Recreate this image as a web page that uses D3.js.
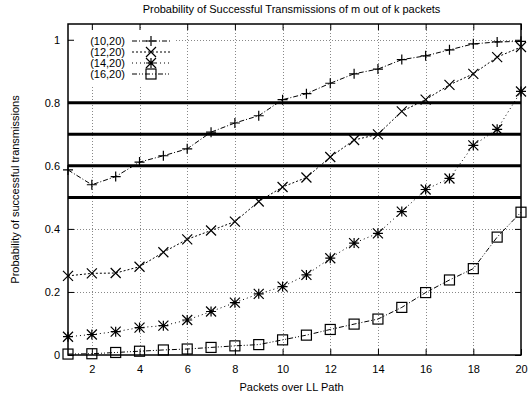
<!DOCTYPE html>
<html>
<head>
<meta charset="utf-8">
<script src="https://cdn.jsdelivr.net/npm/d3@7"></script>
<style>
  body { margin: 0; background: #fff; }
  svg { display: block; }
  text { font-family: "Liberation Sans", Arial, sans-serif; fill: #000; }
</style>
</head>
<body>
<svg id="chart" width="531" height="402"></svg>
<script>
// Packets sent over the LL path (x axis)
const packets = d3.range(1, 21);

// Series labels (m,k)
const seriesNames = ["(10,20)", "(12,20)", "(14,20)", "(16,20)"];

// Probability of successful transmission for each series
const s10of20 = [0.587, 0.540, 0.566, 0.612, 0.632, 0.654, 0.707, 0.736, 0.759, 0.810,
                 0.829, 0.862, 0.892, 0.907, 0.937, 0.949, 0.968, 0.987, 0.993, 0.995];
const s12of20 = [0.251, 0.259, 0.260, 0.280, 0.326, 0.367, 0.395, 0.423, 0.487, 0.533,
                 0.563, 0.628, 0.682, 0.700, 0.773, 0.810, 0.857, 0.892, 0.945, 0.977];
const s14of20 = [0.058, 0.065, 0.074, 0.087, 0.093, 0.111, 0.138, 0.166, 0.194, 0.217,
                 0.254, 0.307, 0.355, 0.386, 0.455, 0.525, 0.560, 0.665, 0.716, 0.836];
const s16of20 = [0.003, 0.004, 0.008, 0.012, 0.016, 0.019, 0.024, 0.029, 0.033, 0.048,
                 0.063, 0.081, 0.098, 0.114, 0.151, 0.198, 0.238, 0.274, 0.374, 0.453];

// Threshold levels drawn as heavy horizontal rules
const thresholds = [0.5, 0.6, 0.7, 0.8];

// Axis ticks
const xTicks = [2, 4, 6, 8, 10, 12, 14, 16, 18, 20];
const yTicks = [0, 0.2, 0.4, 0.6, 0.8, 1];

const allSeries = [s10of20, s12of20, s14of20, s16of20];
const dashes = ["5,2,1,2", "2,2", "1,3", "5,2,1,2,1,2"];
const markers = ["plus", "cross", "star", "square"];

const svg = d3.select("#chart");
const margin = { left: 68, right: 10, top: 24, bottom: 47 };
const W = 531, H = 402;
const x = d3.scaleLinear().domain([1, 20]).range([margin.left, W - margin.right]);
const y = d3.scaleLinear().domain([0, 1.05]).range([H - margin.bottom, margin.top]);

const x0 = x.range()[0], x1 = x.range()[1];
const yB = y.range()[0], yT = y.range()[1];

// Grid
const grid = svg.append("g").attr("stroke", "#888").attr("stroke-width", 1)
  .attr("stroke-dasharray", "1,2");
xTicks.filter(d => d < 20).forEach(t => {
  grid.append("line").attr("x1", Math.round(x(t)) + 0.5).attr("x2", Math.round(x(t)) + 0.5)
    .attr("y1", yT).attr("y2", yB);
});
yTicks.filter(d => d > 0).forEach(t => {
  grid.append("line").attr("y1", Math.round(y(t)) + 0.5).attr("y2", Math.round(y(t)) + 0.5)
    .attr("x1", x0).attr("x2", x1);
});

// Legend background (key area is kept clear of the grid)
svg.append("rect").attr("x", x0 + 2).attr("y", yT + 6).attr("width", 104).attr("height", 56)
  .attr("fill", "#fff");

// Threshold rules
svg.append("g").selectAll("line").data(thresholds).join("line")
  .attr("x1", x0).attr("x2", x1)
  .attr("y1", d => y(d)).attr("y2", d => y(d))
  .attr("stroke", "#000").attr("stroke-width", 3);

// Axes with inward ticks, mirrored on top/right
const tickLen = 6;
const axB = d3.axisBottom(x).tickValues(xTicks).tickSizeInner(-tickLen).tickSizeOuter(0).tickPadding(10);
const axL = d3.axisLeft(y).tickValues(yTicks).tickSizeInner(-tickLen).tickSizeOuter(0).tickPadding(8)
  .tickFormat(d => d3.format("")(d));
const axT = d3.axisTop(x).tickValues(xTicks).tickSizeInner(-tickLen).tickSizeOuter(0).tickFormat("");
const axR = d3.axisRight(y).tickValues(yTicks).tickSizeInner(-tickLen).tickSizeOuter(0).tickFormat("");

function styleAxis(g) {
  g.select(".domain").remove();
  g.selectAll("text").attr("font-size", 11).attr("font-family", "Liberation Sans, Arial, sans-serif");
  g.selectAll("line").attr("stroke", "#000");
}
svg.append("g").attr("transform", `translate(0,${yB})`).call(axB).call(styleAxis);
svg.append("g").attr("transform", `translate(${x0},0)`).call(axL).call(styleAxis);
svg.append("g").attr("transform", `translate(0,${yT})`).call(axT).call(styleAxis);
svg.append("g").attr("transform", `translate(${x1},0)`).call(axR).call(styleAxis);

// Frame
svg.append("rect").attr("x", x0).attr("y", yT).attr("width", x1 - x0).attr("height", yB - yT)
  .attr("fill", "none").attr("stroke", "#000").attr("stroke-width", 1.5);

// Marker shapes
function drawMarker(g, kind, cx, cy) {
  const r = 5;
  if (kind === "plus") {
    g.append("path").attr("d", `M${cx - r},${cy}H${cx + r}M${cx},${cy - r}V${cy + r}`);
  } else if (kind === "cross") {
    g.append("path").attr("d", `M${cx - r},${cy - r}L${cx + r},${cy + r}M${cx - r},${cy + r}L${cx + r},${cy - r}`);
  } else if (kind === "star") {
    g.append("path").attr("d", `M${cx - r},${cy - r}L${cx + r},${cy + r}M${cx - r},${cy + r}L${cx + r},${cy - r}M${cx - r},${cy}H${cx + r}M${cx},${cy - r}V${cy + r}`);
  } else {
    g.append("rect").attr("x", cx - r).attr("y", cy - r).attr("width", 2 * r).attr("height", 2 * r)
      .attr("fill", "none");
  }
}

const line = d3.line().x((d, i) => x(packets[i])).y(d => y(d));
const plot = svg.append("g");
allSeries.forEach((vals, k) => {
  plot.append("path").datum(vals).attr("d", line)
    .attr("fill", "none").attr("stroke", "#000").attr("stroke-width", 1)
    .attr("stroke-dasharray", dashes[k]);
  const mg = plot.append("g").attr("stroke", "#000").attr("stroke-width", 1.2).attr("fill", "none");
  vals.forEach((v, i) => drawMarker(mg, markers[k], x(packets[i]), y(v)));
});

// Legend
const lg = svg.append("g");
seriesNames.forEach((name, k) => {
  const ly = 41 + k * 11;
  lg.append("text").attr("x", 125).attr("y", ly).attr("dy", "0.35em")
    .attr("text-anchor", "end").attr("font-size", 11).text(name);
  lg.append("line").attr("x1", 132).attr("x2", 170).attr("y1", ly).attr("y2", ly)
    .attr("stroke", "#000").attr("stroke-width", 1).attr("stroke-dasharray", dashes[k]);
  const mg = lg.append("g").attr("stroke", "#000").attr("stroke-width", 1.2).attr("fill", "none");
  drawMarker(mg, markers[k], 151, ly);
});

// Titles
svg.append("text").attr("x", (x0 + x1) / 2 - 3).attr("y", 13).attr("text-anchor", "middle")
  .attr("font-size", 11).text("Probability of Successful Transmissions of m out of k packets");
svg.append("text").attr("x", (x0 + x1) / 2 - 3).attr("y", 391).attr("text-anchor", "middle")
  .attr("font-size", 11).text("Packets over LL Path");
svg.append("text").attr("transform", `translate(15,${(yT + yB) / 2}) rotate(-90)`)
  .attr("text-anchor", "middle").attr("dy", "0.35em")
  .attr("font-size", 11).text("Probability of successful transmissions");
</script>
</body>
</html>
